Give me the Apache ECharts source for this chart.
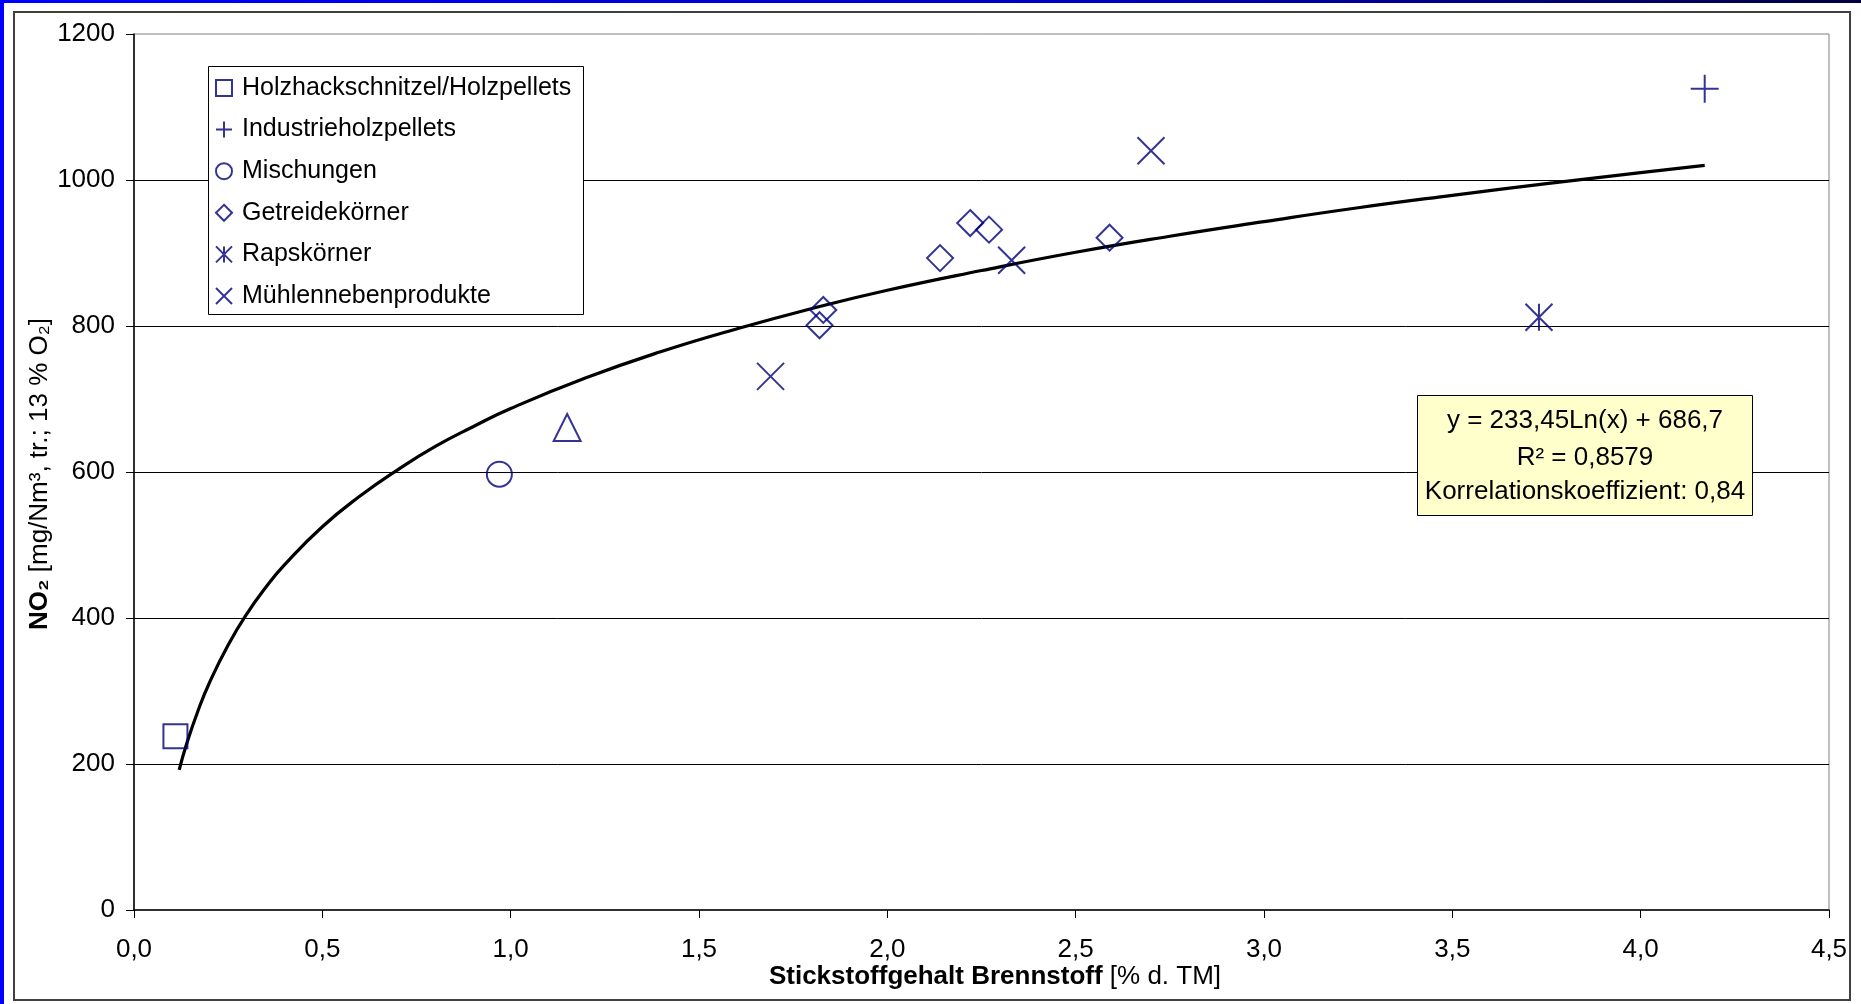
<!DOCTYPE html>
<html><head><meta charset="utf-8">
<script src="https://cdn.jsdelivr.net/npm/echarts@6/dist/echarts.min.js"></script>
<style>html,body{margin:0;padding:0;background:#fff;overflow:hidden}#c{width:1861px;height:1004px}</style>
</head><body><div id="c"></div>
<script>
// ---- data ----
const holzhackschnitzel = [[0.11, 238]];
const industrieholzpellets = [[4.17, 1125]];
const mischungen = [[0.97, 597]];
const getreidekoerner = [[1.82, 801], [1.83, 822], [2.14, 893], [2.22, 941], [2.27, 932], [2.59, 921]];
const rapskoerner = [[3.73, 812]];
const muehlennebenprodukte = [[1.69, 731], [2.33, 890], [2.70, 1040]];
const ohneLegende = [[1.15, 661]];
// logarithmic trend line
const trendlinie = [[0.12, 192], [0.14, 228], [0.17, 273], [0.2, 311], [0.25, 363], [0.3, 406], [0.35, 442],
  [0.4, 473], [0.5, 525], [0.6, 567], [0.7, 603], [0.8, 635], [0.9, 662], [1.0, 687], [1.2, 729], [1.4, 765],
  [1.6, 796], [1.8, 824], [2.0, 849], [2.25, 876], [2.5, 901], [2.75, 923], [3.0, 943], [3.25, 962], [3.5, 979],
  [3.75, 995], [4.0, 1010], [4.17, 1020]];
const seriesNames = ['Holzhackschnitzel/Holzpellets', 'Industrieholzpellets', 'Mischungen', 'Getreidekörner', 'Rapskörner', 'Mühlennebenprodukte'];
const equationLines = ['y = 233,45Ln(x) + 686,7', 'R² = 0,8579', 'Korrelationskoeffizient: 0,84'];
const xTitleBold = 'Stickstoffgehalt Brennstoff';
const xTitleRest = ' [% d. TM]';
const yTitleBold = 'NO₂';
const yTitleRest = ' [mg/Nm³, tr.; 13 % O₂]';

const FONT = '"Liberation Sans", Arial, sans-serif';
const NAVY = '#000078';
const PLUS = 'path://M5,0L5,10M0,5L10,5';
const CROSS = 'path://M0,0L10,10M10,0L0,10';
const STAR = 'path://M0,0L10,10M10,0L0,10M5,0L5,10';

function markerSeries(name, data, symbol, size) {
  return {
    name, type: 'scatter', data, symbol, symbolSize: size, z: 3,
    itemStyle: { color: 'rgba(0,0,0,0)', borderColor: NAVY, borderWidth: 2 },
    emphasis: { disabled: true }
  };
}

const chart = echarts.init(document.getElementById('c'), null, { renderer: 'canvas' });
chart.setOption({
  backgroundColor: '#ffffff',
  animation: false,
  textStyle: { fontFamily: FONT },
  grid: { left: 134, top: 34, right: 32, bottom: 94, show: true, borderColor: '#808080', borderWidth: 1, backgroundColor: 'transparent' },
  xAxis: {
    type: 'value', min: 0, max: 4.5, interval: 0.5,
    axisLine: { show: true, onZero: false, lineStyle: { color: '#000', width: 1.5 } },
    axisTick: { show: true, inside: false, length: 8, lineStyle: { color: '#000', width: 1 } },
    axisLabel: { margin: 27, fontSize: 26, color: '#000', fontFamily: FONT, formatter: v => v.toFixed(1).replace('.', ',') },
    splitLine: { show: false }
  },
  yAxis: {
    type: 'value', min: 0, max: 1200, interval: 200,
    axisLine: { show: true, onZero: false, lineStyle: { color: '#000', width: 1.5 } },
    axisTick: { show: true, inside: false, length: 8, lineStyle: { color: '#000', width: 1 } },
    axisLabel: { margin: 19, fontSize: 26, color: '#000', fontFamily: FONT, formatter: v => String(v) },
    splitLine: { show: true, showMinLine: false, showMaxLine: false, lineStyle: { color: '#000', width: 1 } }
  },
  legend: {
    orient: 'vertical', left: 215, top: 73, padding: 0, itemGap: 11.6, itemWidth: 16, itemHeight: 16, z: 10,
    data: seriesNames, selectedMode: false,
    textStyle: { fontSize: 25, lineHeight: 30, color: '#000', fontFamily: FONT, padding: [0, 0, 0, 5] }
  },
  graphic: [
    { type: 'rect', z: 0, silent: true, shape: { x: 0, y: 0, width: 1861, height: 3 },
      style: { fill: new echarts.graphic.LinearGradient(0, 0, 1, 0, [{ offset: 0, color: '#0000ff' }, { offset: 0.6, color: '#0000c0' }, { offset: 1, color: '#000040' }]) } },
    { type: 'rect', z: 0, silent: true, shape: { x: 0, y: 0, width: 4, height: 1004 }, style: { fill: '#0000ff' } },
    { type: 'rect', z: 0, silent: true, shape: { x: 14, y: 12, width: 1836, height: 988 }, style: { fill: 'none', stroke: '#404040', lineWidth: 2 } },
    { type: 'rect', z: 5, silent: true, shape: { x: 208.5, y: 66.5, width: 375, height: 248 }, style: { fill: '#fff', stroke: '#000', lineWidth: 1 } },
    { type: 'rect', z: 5, silent: true, shape: { x: 1417.5, y: 395.5, width: 335, height: 120 }, style: { fill: '#ffffcc', stroke: '#000', lineWidth: 1 } },
    { type: 'text', z: 6, silent: true, x: 1585, y: 421, style: { text: equationLines[0], font: '26px ' + FONT, fill: '#000', textAlign: 'center', textVerticalAlign: 'middle' } },
    { type: 'text', z: 6, silent: true, x: 1585, y: 458, style: { text: equationLines[1], font: '26px ' + FONT, fill: '#000', textAlign: 'center', textVerticalAlign: 'middle' } },
    { type: 'text', z: 6, silent: true, x: 1585, y: 492, style: { text: equationLines[2], font: '26px ' + FONT, fill: '#000', textAlign: 'center', textVerticalAlign: 'middle' } },
    { type: 'text', z: 6, silent: true, x: 995, y: 977,
      style: { text: '{b|' + xTitleBold + '}{n|' + xTitleRest + '}', textAlign: 'center', textVerticalAlign: 'middle',
        rich: { b: { fontSize: 26, fontWeight: 'bold', fontFamily: FONT, fill: '#000' }, n: { fontSize: 26, fontFamily: FONT, fill: '#000' } } } },
    { type: 'text', z: 6, silent: true, x: 40, y: 474, rotation: Math.PI / 2,
      style: { text: '{b|' + yTitleBold + '}{n|' + yTitleRest + '}', textAlign: 'center', textVerticalAlign: 'middle',
        rich: { b: { fontSize: 26, fontWeight: 'bold', fontFamily: FONT, fill: '#000' }, n: { fontSize: 26, fontFamily: FONT, fill: '#000' } } } }
  ],
  series: [
    { name: 'Trendlinie', type: 'line', data: trendlinie, showSymbol: false, smooth: true, z: 2,
      lineStyle: { color: '#000', width: 3.2 }, emphasis: { disabled: true } },
    markerSeries(seriesNames[0], holzhackschnitzel, 'rect', 24),
    markerSeries(seriesNames[1], industrieholzpellets, PLUS, 28),
    markerSeries(seriesNames[2], mischungen, 'circle', 25),
    markerSeries(seriesNames[3], getreidekoerner, 'diamond', 26),
    markerSeries(seriesNames[4], rapskoerner, STAR, 27),
    markerSeries(seriesNames[5], muehlennebenprodukte, CROSS, 27),
    markerSeries('ohne Legende', ohneLegende, 'triangle', 27)
  ]
});
</script></body></html>
